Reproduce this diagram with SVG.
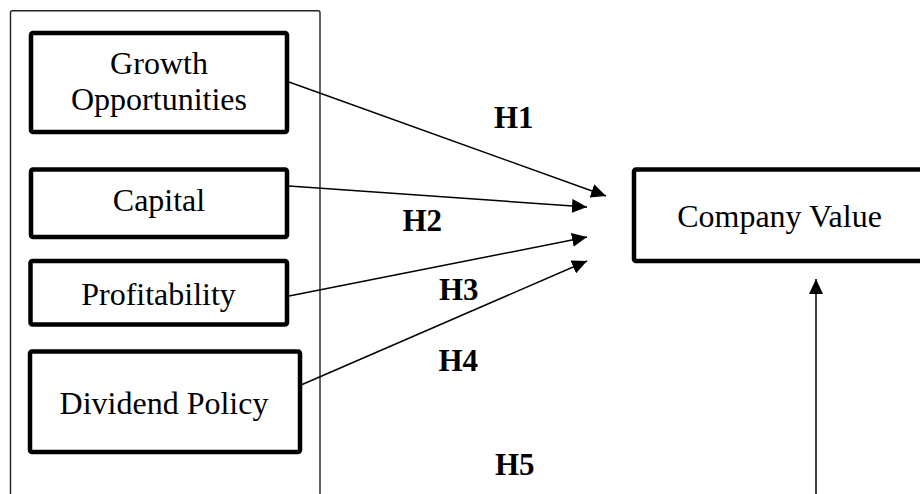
<svg xmlns="http://www.w3.org/2000/svg" width="920" height="494" viewBox="0 0 920 494">
<style>
.node{fill:#fff;stroke:#000;stroke-width:4.5}
.lbl{font-family:"Liberation Serif","Times New Roman",serif;font-size:32px;fill:#000;text-anchor:middle}
.h{font-family:"Liberation Serif","Times New Roman",serif;font-size:31px;font-weight:bold;fill:#000}
.conn{stroke:#000;stroke-width:1.5;fill:none;marker-end:url(#arr)}
</style>
<defs>
<marker id="arr" viewBox="0 0 15 14" markerWidth="15" markerHeight="14" refX="15" refY="7" orient="auto" markerUnits="userSpaceOnUse">
<path d="M0,0 L15,7 L0,14 z" fill="#000"/>
</marker>
</defs>
<rect fill="#fff" width="920" height="494"/>
<g id="frame">
<rect x="10.5" y="10.7" width="309.5" height="500" rx="2" fill="none" stroke="#222" stroke-width="1.4"/>
</g>
<g id="growth">
<rect class="node" x="31" y="33" width="256" height="99" rx="2"/>
<text class="lbl" x="159" y="74">Growth</text>
<text class="lbl" x="159" y="110">Opportunities</text>
</g>
<g id="capital">
<rect class="node" x="31" y="169.5" width="256" height="67.5" rx="2"/>
<text class="lbl" x="159" y="211">Capital</text>
</g>
<g id="profitability">
<rect class="node" x="30.5" y="261" width="256.5" height="63.5" rx="2"/>
<text class="lbl" x="158.5" y="305">Profitability</text>
</g>
<g id="dividend">
<rect class="node" x="30" y="351.5" width="270" height="100.5" rx="2"/>
<text class="lbl" x="164" y="414">Dividend Policy</text>
</g>
<g id="company">
<rect class="node" x="634" y="169.5" width="300" height="91.5" rx="2"/>
<text class="lbl" x="779.5" y="227">Company Value</text>
</g>
<g id="connectors">
<line class="conn" x1="289" y1="82" x2="606" y2="196"/>
<line class="conn" x1="289" y1="186" x2="587" y2="207"/>
<line class="conn" x1="289" y1="296" x2="587" y2="237"/>
<line class="conn" x1="301" y1="385" x2="587" y2="261"/>
<line class="conn" x1="816" y1="500" x2="816" y2="279"/>
</g>
<g id="labels">
<text class="h" x="494" y="128">H1</text>
<text class="h" x="402.5" y="231">H2</text>
<text class="h" x="439" y="300">H3</text>
<text class="h" x="438.5" y="370.5">H4</text>
<text class="h" x="495" y="475">H5</text>
</g>
</svg>
